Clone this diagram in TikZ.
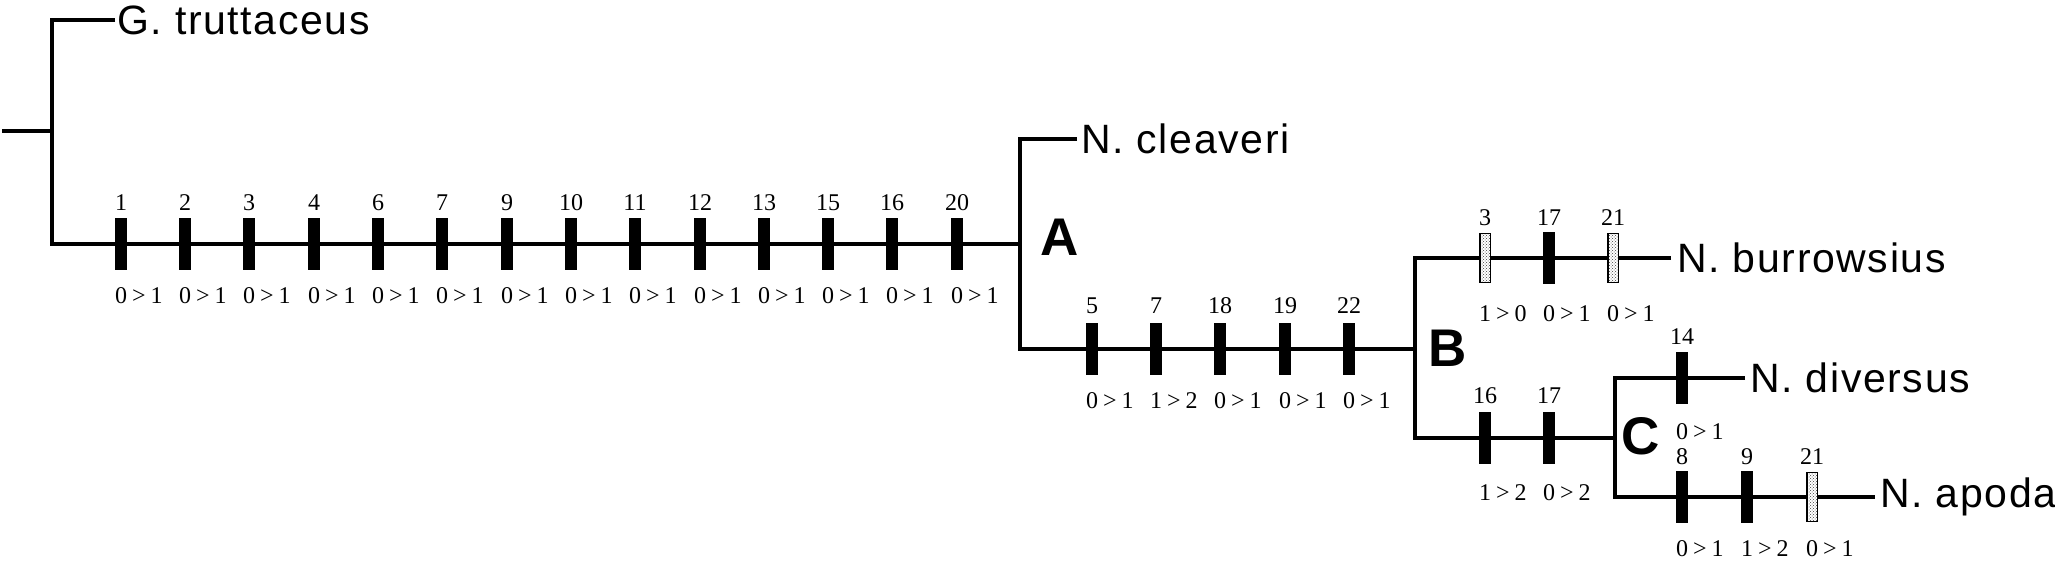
\documentclass[tikz,border=0pt]{standalone}
\usepackage{fontspec}
\usetikzlibrary{patterns}
\setmainfont{Liberation Serif}
\newfontfamily\spfont[LetterSpace=4]{Liberation Sans}
\newfontfamily\lblfont{Liberation Sans}
\newcommand\chg[2]{#1\kern5pt>\kern5pt#2}
\begin{document}
\begin{tikzpicture}[x=1pt,y=-1pt,
  br/.style={line width=4.3pt},
  mk/.style={rectangle, fill=black, minimum width=12pt, minimum height=52pt, inner sep=0pt},
  hmk/.style={rectangle, draw=black, line width=1.5pt, minimum width=10.5pt, minimum height=49pt, inner sep=0pt,
    preaction={fill=white}, pattern=crosshatch dots, pattern color=black!75},
  num/.style={font=\fontsize{24}{24}\selectfont, inner sep=0pt},
  chl/.style={num, anchor=west},
  sp/.style={font=\spfont\fontsize{41}{43}\selectfont, anchor=west, inner sep=0pt},
  cl/.style={font=\lblfont\bfseries\fontsize{53}{53}\selectfont, inner sep=0pt}]
\useasboundingbox (0,0) rectangle (2055,561);
% branch points
\coordinate (r0) at (2,131);
\coordinate (r1) at (52,131);
\coordinate (g0) at (52,20);
\coordinate (g1) at (115,20);
\coordinate (m0) at (52,244);
\coordinate (A)  at (1020,244);
\coordinate (Ac) at (1020,139);
\coordinate (Ac1) at (1077,139);
\coordinate (Ab) at (1020,349);
\coordinate (B)  at (1415,349);
\coordinate (Bu) at (1415,258);
\coordinate (Bu1) at (1671,258);
\coordinate (Bc) at (1415,438);
\coordinate (C)  at (1615,438);
\coordinate (Cd) at (1615,378);
\coordinate (Cd1) at (1745,378);
\coordinate (Ca) at (1615,497);
\coordinate (Ca1) at (1875,497);
% branches
\draw[br] (r0) -- (r1);
\draw[br] (g1) -- (g0) -- (m0) -- (A);
\draw[br] (Ac1) -- (Ac) -- (Ab) -- (B);
\draw[br] (Bu1) -- (Bu) -- (Bc) -- (C);
\draw[br] (Cd1) -- (Cd) -- (Ca) -- (Ca1);
% taxa
\node[sp] (gt) at (117,20) {G. truttaceus};
\node[sp] (nc) at (1081,139) {N. cleaveri};
\node[sp] (nb) at (1677,258) {N. burrowsius};
\node[sp] (nd) at (1750,378) {N. diversus};
\node[sp] (na) at (1880,497) {N. apoda};
% clade letters
\node[cl] (la) at (1060,237) {A};
\node[cl] (lb) at (1448,348) {B};
\node[cl] (lc) at (1641,436) {C};
% main branch marks
\foreach \x/\n/\a/\b [count=\i] in {121/1/0/1,185/2/0/1,249/3/0/1,314/4/0/1,378/6/0/1,442/7/0/1,507/9/0/1,571/10/0/1,635/11/0/1,700/12/0/1,764/13/0/1,828/15/0/1,892/16/0/1,957/20/0/1}{
  \node[mk] (ma\i) at (\x,244) {};
  \node[num] (na\i) at (\x,203) {\n};
  \node[chl] (ta\i) at (\x-6,296) {\chg{\a}{\b}};
}
% A-B branch
\foreach \x/\n/\a/\b [count=\i] in {1092/5/0/1,1156/7/1/2,1220/18/0/1,1285/19/0/1,1349/22/0/1}{
  \node[mk] (mb\i) at (\x,349) {};
  \node[num] (nb\i) at (\x,306) {\n};
  \node[chl] (tb\i) at (\x-6,401) {\chg{\a}{\b}};
}
% burrowsius
\node[hmk] (mc1) at (1485,258) {};
\node[mk]  (mc2) at (1549,258) {};
\node[hmk] (mc3) at (1613,258) {};
\foreach \x/\n/\a/\b [count=\i] in {1485/3/1/0,1549/17/0/1,1613/21/0/1}{
  \node[num] (nc\i) at (\x,218) {\n};
  \node[chl] (tc\i) at (\x-6,314) {\chg{\a}{\b}};
}
% B-C branch
\foreach \x/\n/\a/\b [count=\i] in {1485/16/1/2,1549/17/0/2}{
  \node[mk] (md\i) at (\x,438) {};
  \node[num] (nd\i) at (\x,396) {\n};
  \node[chl] (td\i) at (\x-6,493) {\chg{\a}{\b}};
}
% diversus
\node[mk] (me1) at (1682,378) {};
\node[num] (ne1) at (1682,337) {14};
\node[chl] (te1) at (1676,432) {\chg{0}{1}};
% apoda
\node[mk]  (mf1) at (1682,497) {};
\node[mk]  (mf2) at (1747,497) {};
\node[hmk] (mf3) at (1812,497) {};
\foreach \x/\n/\a/\b [count=\i] in {1682/8/0/1,1747/9/1/2,1812/21/0/1}{
  \node[num] (nf\i) at (\x,457) {\n};
  \node[chl] (tf\i) at (\x-6,549) {\chg{\a}{\b}};
}
\end{tikzpicture}
\end{document}
